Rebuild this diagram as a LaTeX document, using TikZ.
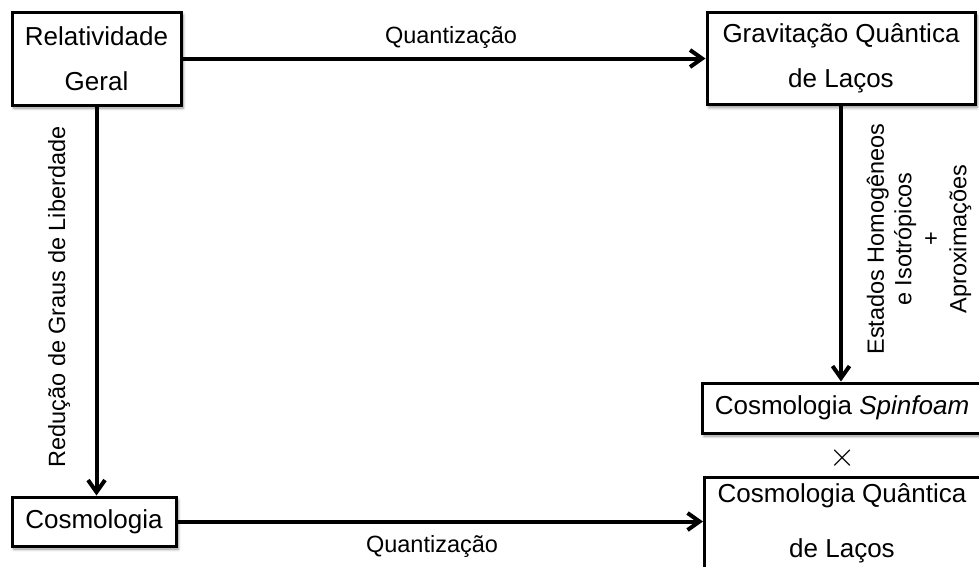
\documentclass[tikz,border=0pt]{standalone}
\usepackage{graphicx}
\usepackage{fontspec}
\setmainfont{Liberation Sans}
\usetikzlibrary{arrows.meta,shadows.blur}
\begin{document}
\begin{tikzpicture}[x=1pt,y=-1pt,
  box/.style={draw, line width=3pt, fill=white, rectangle, inner sep=0pt,
    blur shadow={shadow xshift=2pt, shadow yshift=-3pt, shadow blur radius=3pt,
      shadow blur steps=6, shadow opacity=45}},
  boxfont/.style={font=\fontsize{26}{45}\selectfont, align=center},
  lbl/.style={font=\fontsize{23.5}{27.5}\selectfont, inner sep=0pt},
  flow/.style={line width=4pt, -{Straight Barb[length=12pt,width=17pt]}}]
\useasboundingbox (0,0) rectangle (979,566);
\clip (0,0) rectangle (979,566);

% boxes
\node[box, boxfont, minimum width=169pt, minimum height=93pt] (rg) at (96.5,58.5) {Relatividade\\Geral};
\node[box, boxfont, minimum width=268pt, minimum height=92pt] (gq) at (841,58.5) {Gravitação Quântica\\de Laços};
\node[box, boxfont, minimum width=280pt, minimum height=50pt] (sf) at (842,408) {Cosmologia \textit{Spinfoam}};
\node[box, minimum width=278pt, minimum height=120pt, anchor=north west] (cqb) at (703,476) {};
\node[font=\fontsize{26}{55}\selectfont, align=center, inner sep=0pt] (cql) at (842,523.5) {Cosmologia Quântica\\de Laços};
\node[box, boxfont, minimum width=164pt, minimum height=49pt] (cosmo) at (94,521.5) {Cosmologia};
\node[font=\fontsize{24.88}{26}\selectfont, inner sep=0pt] (times) at (843,458) {\scalebox{1.35}{$\times$}};

% connectors and their labels
\draw[flow] (rg.east) -- (rg.east -| gq.west);
\node[lbl, anchor=base] (q1) at (451,43) {Quantização};

\draw[flow] (cosmo.east) -- (cosmo.east -| cqb.west);
\node[lbl, anchor=base] (q2) at (432,552) {Quantização};

\draw[flow] (rg.south) -- (rg.south |- cosmo.north);
\node[lbl, anchor=base, rotate=90] (red) at (65,297) {Redução de Graus de Liberdade};

\draw[flow] (gq.south) -- (gq.south |- sf.north);
\node[lbl, align=center, rotate=90] (hom) at (919,239) {Estados Homogêneos\\e Isotrópicos\\+\\Aproximações};
\end{tikzpicture}
\end{document}
